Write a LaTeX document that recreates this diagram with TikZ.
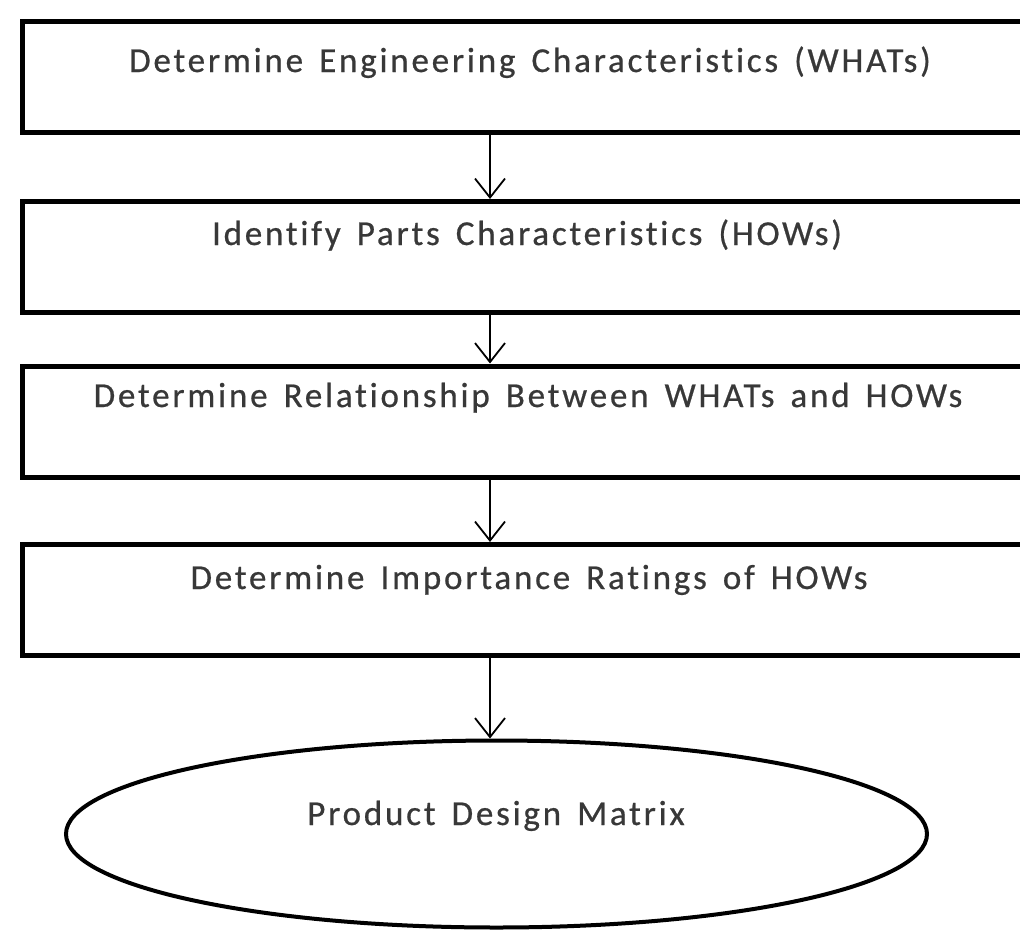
\documentclass[tikz,border=0pt]{standalone}
\usepackage{fontspec}
\setmainfont{Carlito}[LetterSpace=8, WordSpace=1.5, Ligatures=NoCommon, FakeBold=0.6]
\usetikzlibrary{arrows.meta,shapes.geometric}
\definecolor{inkgray}{HTML}{383838}
\tikzset{
  stepbox/.style={draw=black, line width=5pt, rectangle, minimum width=1012pt,
    minimum height=111pt, inner sep=0pt},
  endcap/.style={draw=black, line width=4pt, ellipse, minimum width=861pt,
    minimum height=187pt, inner sep=0pt},
  caption/.style={anchor=base, inner sep=0pt, text=inkgray,
    font=\fontsize{35}{38}\selectfont},
  flow/.style={draw=black, line width=1.8pt,
    -{Straight Barb[length=19pt, width=30pt, line width=1.8pt]}}
}
\begin{document}
\begin{tikzpicture}[x=1pt, y=-1pt]
  \useasboundingbox (0,0) rectangle (1020,929);
  \fill[white] (0,0) rectangle (1020,929);

  % process steps
  \node[stepbox] (b1) at (528,77) {};
  \node[stepbox] (b2) at (528,257) {};
  \node[stepbox] (b3) at (528,421.5) {};
  \node[stepbox] (b4) at (528,600) {};
  \node[endcap]  (e)  at (496.5,834) {};

  \node[caption] (t1) at (530,72)  {Determine Engineering Characteristics (WHATs)};
  \node[caption] (t2) at (527,245) {Identify Parts Characteristics (HOWs)};
  \node[caption] (t3) at (528,407) {Determine Relationship Between WHATs and HOWs};
  \node[caption] (t4) at (529,589) {Determine Importance Ratings of HOWs};
  \node[caption] (t5) at (496,825) {Product Design Matrix};

  % connectors run down a common vertical line
  \coordinate (spine) at (490,0);
  \draw[flow] (b1.south -| spine) -- (b2.north -| spine);
  \draw[flow] (b2.south -| spine) -- (b3.north -| spine);
  \draw[flow] (b3.south -| spine) -- (b4.north -| spine);
  \draw[flow] (b4.south -| spine) -- (e.north -| spine);
\end{tikzpicture}
\end{document}
